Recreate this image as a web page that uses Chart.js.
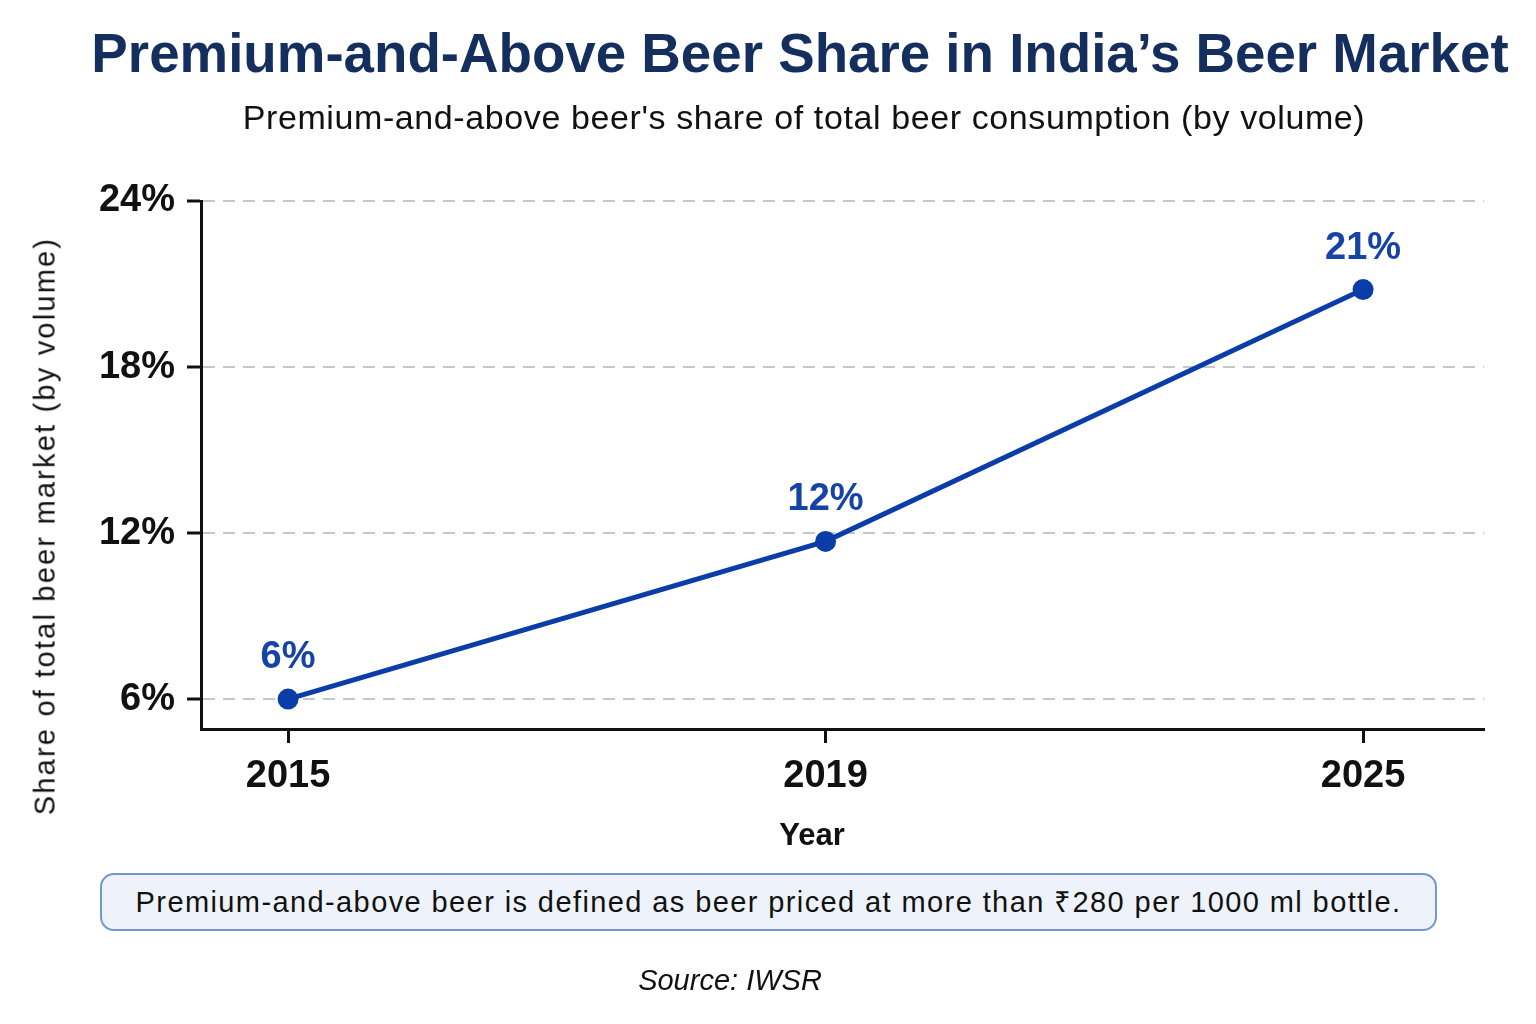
<!DOCTYPE html>
<html>
<head>
<meta charset="utf-8">
<title>Premium-and-Above Beer Share</title>
<script src="https://cdn.jsdelivr.net/npm/chart.js@4.4.1/dist/chart.umd.min.js"></script>
<style>
    html, body { margin: 0; padding: 0; background: #fff; }
    #quadro { position: relative; width: 1536px; height: 1024px; overflow: hidden; background: #fff; }
    #grafico { position: absolute; left: 0; top: 0; }
    .centro { position: absolute; white-space: nowrap; transform: translateX(-50%); }
    #titulo { left: 800px; top: 26px; font: bold 54.7px/1 "Liberation Sans", Arial, sans-serif; color: #142f5e; }
    #subtitulo { left: 804px; top: 100px; font: 34px/1 "Liberation Sans", Arial, sans-serif; letter-spacing: 0.6px; color: #111; }
    #tituloY { position: absolute; left: 45px; top: 526px; white-space: nowrap;
        transform: translate(-50%, -50%) rotate(-90deg);
        font: 29px/1.2 "Liberation Sans", Arial, sans-serif; letter-spacing: 2.2px; color: #111; }
    #tituloX { left: 812px; top: 816px; font: bold 31px/1.2 "Liberation Sans", Arial, sans-serif; color: #111; }
    #nota { position: absolute; left: 100px; top: 873px; width: 1333px; height: 54px;
        border: 2px solid #7397d2; border-radius: 14px; background: #eef3fb;
        font: 29px/54px "Liberation Sans", Arial, sans-serif; letter-spacing: 1.4px; color: #111; text-align: center; }
    #fonte { left: 730px; top: 963px; font: italic 29px/1.2 "Liberation Sans", Arial, sans-serif; color: #111; }
</style>
</head>
<body>
<div id="quadro">
    <canvas id="grafico" width="1536" height="1024"></canvas>
    <div id="titulo" class="centro">Premium-and-Above Beer Share in India’s Beer Market</div>
    <div id="subtitulo" class="centro">Premium-and-above beer's share of total beer consumption (by volume)</div>
    <div id="tituloY">Share of total beer market (by volume)</div>
    <div id="tituloX" class="centro">Year</div>
    <div id="nota">Premium-and-above beer is defined as beer priced at more than ₹280 per 1000 ml bottle.</div>
    <div id="fonte" class="centro">Source: IWSR</div>
</div>
<script>
// Dados
const anos = ['2015', '2019', '2025'];
const participacao = [6, 11.7, 20.8];
const ticksY = [6, 12, 18, 24];

const corLinha = '#0b3da8';
const corRotulo = '#1543a6';

// Rótulos de valor acima de cada ponto
const rotulosPlugin = {
    id: 'rotulos',
    afterDatasetsDraw(chart) {
        const ctx = chart.ctx;
        const meta = chart.getDatasetMeta(0);
        ctx.save();
        ctx.font = 'bold 38px "Liberation Sans", Arial, sans-serif';
        ctx.fillStyle = corRotulo;
        ctx.textAlign = 'center';
        ctx.textBaseline = 'alphabetic';
        meta.data.forEach((ponto, i) => {
            ctx.fillText(Math.round(participacao[i]) + '%', ponto.x, ponto.y - 31);
        });
        ctx.restore();
    }
};

const fonteTick = { family: '"Liberation Sans", Arial, sans-serif', size: 38, weight: 'bold' };

new Chart(document.getElementById('grafico').getContext('2d'), {
    type: 'line',
    data: {
        datasets: [{
            data: anos.map((ano, i) => ({ x: i, y: participacao[i] })),
            borderColor: corLinha,
            borderWidth: 5,
            pointRadius: 10.5,
            pointBackgroundColor: corLinha,
            pointBorderWidth: 0,
            tension: 0
        }]
    },
    options: {
        responsive: false,
        animation: false,
        layout: { padding: { top: 201, left: 22, right: 52, bottom: 160 } },
        plugins: { legend: { display: false }, tooltip: { enabled: false } },
        scales: {
            x: {
                type: 'linear',
                min: -0.162,
                max: 2.225,
                afterBuildTicks: s => { s.ticks = anos.map((a, i) => ({ value: i })); },
                afterFit: s => { s.height = 135; },
                ticks: { callback: v => anos[v], font: fonteTick, color: '#111', padding: 11 },
                grid: { drawOnChartArea: false, drawTicks: true, tickLength: 14, tickColor: '#111', tickWidth: 3 },
                border: { color: '#111', width: 3 }
            },
            y: {
                min: 4.92,
                max: 24,
                afterBuildTicks: s => { s.ticks = ticksY.map(v => ({ value: v })); },
                afterFit: s => { s.width = 179; },
                ticks: { callback: v => v + '%', font: fonteTick, color: '#111', padding: 12 },
                grid: { color: '#c6c6c6', lineWidth: 2, drawTicks: true, tickLength: 14,
                        tickColor: '#111', tickWidth: 3, tickBorderDash: [] },
                border: { color: '#111', width: 3, dash: [12, 8] }
            }
        }
    },
    plugins: [rotulosPlugin]
});
</script>
</body>
</html>
